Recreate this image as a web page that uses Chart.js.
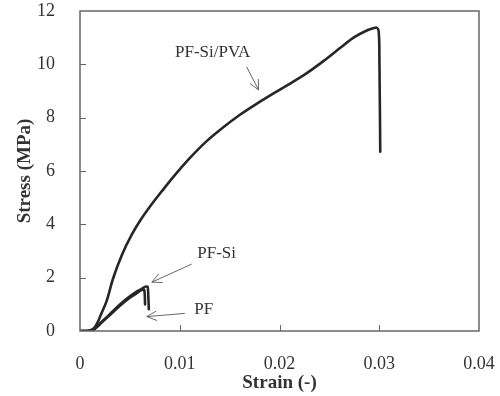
<!DOCTYPE html>
<html>
<head>
<meta charset="utf-8">
<script src="https://cdn.jsdelivr.net/npm/chart.js@4"></script>
<style>
  html, body { margin: 0; padding: 0; background: #fff; }
  #wrap { width: 500px; height: 396px; }
</style>
</head>
<body>
<div id="wrap"><canvas id="chart"></canvas></div>
<script>
// strain (-) / stress (MPa)
var pvaStrain = [0, 0.0008, 0.0012, 0.0015, 0.0018, 0.0021, 0.0027, 0.0033, 0.0042, 0.0052, 0.0061, 0.0070, 0.0082, 0.0094, 0.0110, 0.0127, 0.0143, 0.0160, 0.0177, 0.0194, 0.0211, 0.0227, 0.0244, 0.0261, 0.0275, 0.0286, 0.0293, 0.0297, 0.0299, 0.0300, 0.0301];
var pvaStress = [0, 0.01, 0.05, 0.15, 0.35, 0.62, 1.16, 1.95, 2.85, 3.62, 4.18, 4.66, 5.24, 5.80, 6.48, 7.12, 7.62, 8.10, 8.52, 8.91, 9.29, 9.66, 10.12, 10.62, 11.02, 11.24, 11.34, 11.38, 11.30, 10.80, 6.72];

var siStrain = [0, 0.0008, 0.0012, 0.0016, 0.0020, 0.0028, 0.0035, 0.0042, 0.0050, 0.0056, 0.0062, 0.0066, 0.0068, 0.00685, 0.0069];
var siStress = [0, 0, 0.03, 0.12, 0.28, 0.56, 0.82, 1.06, 1.30, 1.46, 1.58, 1.67, 1.66, 1.30, 0.82];

var pfStrain = [0, 0.0008, 0.0013, 0.0017, 0.0022, 0.0030, 0.0040, 0.0050, 0.0057, 0.0061, 0.0064, 0.0065, 0.00652];
var pfStress = [0, 0, 0.03, 0.15, 0.33, 0.60, 0.95, 1.25, 1.42, 1.52, 1.56, 1.30, 1.00];

var xTicks = [0, 0.01, 0.02, 0.03, 0.04];
var yTicks = [0, 2, 4, 6, 8, 10, 12];

// labels with arrows, in data units
var notes = [
    { text: 'PF-Si/PVA', tx: 0.0133, ty: 10.46, ax: [0.0167, 9.91], ah: [0.0179, 9.04] },
    { text: 'PF-Si', tx: 0.0137, ty: 2.92, ax: [0.0112, 2.51], ah: [0.0072, 1.83] },
    { text: 'PF', tx: 0.0124, ty: 0.79, ax: [0.0105, 0.66], ah: [0.0067, 0.54] }
];

function toPoints(xs, ys) {
    return xs.map(function (x, i) { return { x: x, y: ys[i] }; });
}

function curve(label, xs, ys) {
    return {
        label: label,
        data: toPoints(xs, ys),
        showLine: true,
        borderColor: '#262626',
        borderWidth: 2.6,
        pointRadius: 0,
        cubicInterpolationMode: 'monotone',
        borderJoinStyle: 'round',
        borderCapStyle: 'round'
    };
}

var SERIF = '"Liberation Serif", "Times New Roman", serif';

var framePlugin = {
    id: 'frame',
    afterDraw: function (chart) {
        var ctx = chart.ctx, a = chart.chartArea;
        var xs = chart.scales.x, ys = chart.scales.y;
        ctx.save();
        ctx.strokeStyle = '#666';
        ctx.lineWidth = 1.5;
        ctx.strokeRect(a.left, a.top, a.right - a.left, a.bottom - a.top);
        ctx.lineWidth = 1;
        ctx.beginPath();
        yTicks.slice(1, -1).forEach(function (v) {
            var py = Math.round(ys.getPixelForValue(v)) + 0.5;
            ctx.moveTo(a.left, py);
            ctx.lineTo(a.left + 6, py);
        });
        xTicks.slice(1, -1).forEach(function (v) {
            var px = Math.round(xs.getPixelForValue(v)) + 0.5;
            ctx.moveTo(px, a.bottom);
            ctx.lineTo(px, a.bottom - 6);
        });
        ctx.stroke();

        // annotations
        ctx.font = '17px ' + SERIF;
        ctx.fillStyle = '#333';
        ctx.textAlign = 'center';
        ctx.textBaseline = 'middle';
        notes.forEach(function (n) {
            ctx.fillText(n.text, xs.getPixelForValue(n.tx), ys.getPixelForValue(n.ty));
            var x1 = xs.getPixelForValue(n.ax[0]), y1 = ys.getPixelForValue(n.ax[1]);
            var x2 = xs.getPixelForValue(n.ah[0]), y2 = ys.getPixelForValue(n.ah[1]);
            var ang = Math.atan2(y2 - y1, x2 - x1);
            ctx.strokeStyle = '#666';
            ctx.lineWidth = 1;
            ctx.beginPath();
            ctx.moveTo(x1, y1);
            ctx.lineTo(x2, y2);
            ctx.moveTo(x2 - 11 * Math.cos(ang - 0.45), y2 - 11 * Math.sin(ang - 0.45));
            ctx.lineTo(x2, y2);
            ctx.lineTo(x2 - 11 * Math.cos(ang + 0.45), y2 - 11 * Math.sin(ang + 0.45));
            ctx.stroke();
        });
        ctx.restore();
    }
};

new Chart(document.getElementById('chart'), {
    type: 'scatter',
    data: {
        datasets: [
            curve('PF-Si/PVA', pvaStrain, pvaStress),
            curve('PF-Si', siStrain, siStress),
            curve('PF', pfStrain, pfStress)
        ]
    },
    options: {
        responsive: true,
        maintainAspectRatio: false,
        animation: false,
        layout: { padding: { top: 11, right: 21, bottom: 0, left: 0 } },
        plugins: {
            legend: { display: false },
            tooltip: { enabled: false }
        },
        scales: {
            x: {
                type: 'linear',
                min: 0,
                max: 0.04,
                afterFit: function (s) {
                    s.height = 65;
                    s.paddingLeft = 0;
                    s.paddingRight = 0;
                },
                afterBuildTicks: function (s) { s.ticks = xTicks.map(function (v) { return { value: v }; }); },
                grid: { display: false },
                border: { display: false },
                ticks: {
                    padding: 14,
                    color: '#333',
                    font: { family: SERIF, size: 18 },
                    callback: function (v) { return v === 0 ? '0' : v.toFixed(2); }
                },
                title: {
                    display: true,
                    text: 'Strain (-)',
                    color: '#333',
                    font: { family: SERIF, size: 19, weight: 'bold' },
                    padding: { top: 0, bottom: 2 }
                }
            },
            y: {
                type: 'linear',
                min: 0,
                max: 12,
                afterFit: function (s) {
                    s.width = 80;
                    s.paddingTop = 0;
                    s.paddingBottom = 0;
                },
                afterBuildTicks: function (s) { s.ticks = yTicks.map(function (v) { return { value: v }; }); },
                grid: { display: false },
                border: { display: false },
                ticks: {
                    padding: 17,
                    color: '#333',
                    font: { family: SERIF, size: 18 }
                },
                title: {
                    display: true,
                    text: 'Stress (MPa)',
                    color: '#333',
                    font: { family: SERIF, size: 19, weight: 'bold' },
                    padding: { top: 14, bottom: 0 }
                }
            }
        }
    },
    plugins: [framePlugin]
});
</script>
</body>
</html>
